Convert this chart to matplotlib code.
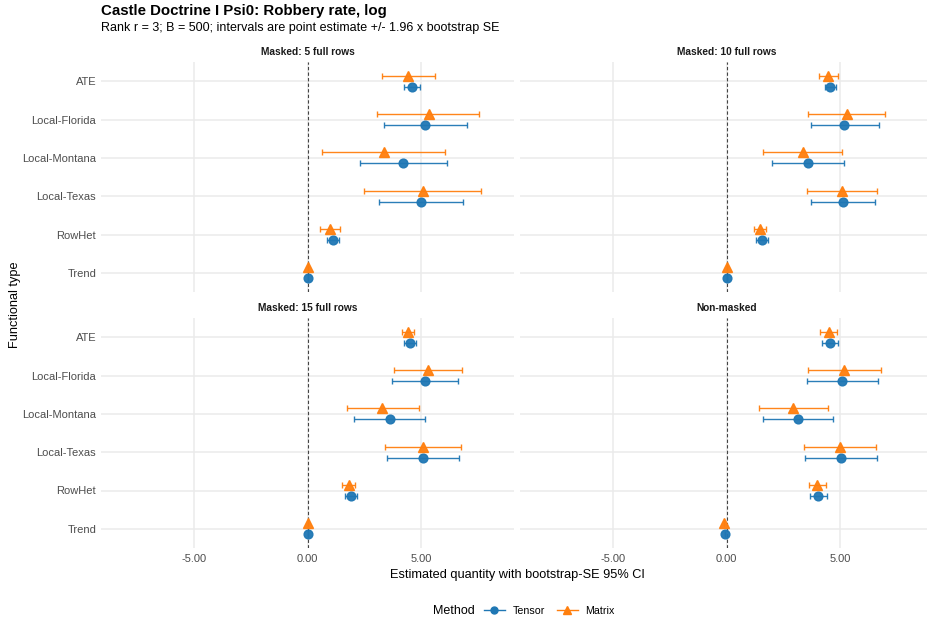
import numpy as np
import matplotlib
matplotlib.use("Agg")
import matplotlib.pyplot as plt
from matplotlib.lines import Line2D

plt.rcParams['font.family'] = ['Liberation Sans', 'DejaVu Sans']

# functional types, top to bottom
types = ["ATE", "Local-Florida", "Local-Montana", "Local-Texas", "RowHet", "Trend"]
panels = ["Masked: 5 full rows", "Masked: 10 full rows",
          "Masked: 15 full rows", "Non-masked"]

# point estimates and CI bounds per panel (same order as types)
tensor_est = [
    [4.60, 5.19, 4.22, 5.01, 1.13, 0.00],
    [4.57, 5.19, 3.59, 5.13, 1.56, 0.00],
    [4.53, 5.16, 3.62, 5.09, 1.91, 0.00],
    [4.56, 5.10, 3.16, 5.04, 4.04, -0.06],
]
tensor_lo = [
    [4.24, 3.37, 2.30, 3.17, 0.85, 0.00],
    [4.34, 3.71, 1.99, 3.72, 1.32, 0.00],
    [4.27, 3.71, 2.07, 3.50, 1.64, 0.00],
    [4.21, 3.54, 1.63, 3.46, 3.68, -0.06],
]
tensor_hi = [
    [4.97, 7.02, 6.13, 6.85, 1.41, 0.00],
    [4.84, 6.71, 5.18, 6.54, 1.81, 0.00],
    [4.79, 6.63, 5.19, 6.69, 2.18, 0.00],
    [4.93, 6.68, 4.71, 6.63, 4.41, -0.06],
]
matrix_est = [
    [4.44, 5.34, 3.37, 5.07, 1.00, 0.00],
    [4.47, 5.29, 3.35, 5.07, 1.47, 0.00],
    [4.44, 5.29, 3.30, 5.07, 1.82, 0.00],
    [4.50, 5.19, 2.94, 4.99, 3.99, -0.09],
]
matrix_lo = [
    [3.27, 3.08, 0.66, 2.51, 0.56, 0.00],
    [4.07, 3.59, 1.63, 3.53, 1.21, 0.00],
    [4.15, 3.80, 1.73, 3.40, 1.54, 0.00],
    [4.13, 3.59, 1.44, 3.41, 3.62, -0.09],
]
matrix_hi = [
    [5.62, 7.57, 6.07, 7.65, 1.45, 0.00],
    [4.91, 7.00, 5.10, 6.63, 1.76, 0.00],
    [4.71, 6.82, 4.90, 6.77, 2.11, 0.00],
    [4.87, 6.79, 4.49, 6.59, 4.38, -0.09],
]

TENSOR_COL = "#1f77b4"
MATRIX_COL = "#ff7f0e"
W, H = 927, 623

fig = plt.figure(figsize=(W / 100, H / 100), dpi=100)

# panel boxes in pixels: (left, top, width, height)
boxes = [(101, 62, 413, 230), (520, 62, 413, 230),
         (101, 318, 413, 230), (520, 318, 413, 230)]

ypos = np.arange(len(types))[::-1] + 1.0
dodge = 0.14

for i, (l, t, w, h) in enumerate(boxes):
    ax = fig.add_axes([l / W, 1 - (t + h) / H, w / W, h / H])
    for s in ax.spines.values():
        s.set_visible(False)
    ax.set_xlim(-9.1, 9.1)
    ax.set_ylim(0.5, 6.5)
    ax.set_xticks([-5, 0, 5])
    ax.set_yticks(ypos)
    ax.grid(True, color="#ebebeb", linewidth=1.1)
    ax.set_axisbelow(True)
    ax.tick_params(length=0, labelsize=8, labelcolor="#4d4d4d")
    ax.tick_params(axis="x", pad=4)
    ax.tick_params(axis="y", pad=3.5)
    if i % 2 == 0:
        ax.set_yticklabels(types)
    else:
        ax.set_yticklabels([])
    if i < 2:
        ax.set_xticklabels([])
    else:
        ax.set_xticklabels(["-5.00", "0.00", "5.00"])

    ax.axvline(0, color="#444444", linestyle=(0, (3, 2)), linewidth=0.8, zorder=1)

    te = np.array(tensor_est[i])
    me = np.array(matrix_est[i])
    ax.errorbar(te, ypos - dodge,
                xerr=[te - np.array(tensor_lo[i]), np.array(tensor_hi[i]) - te],
                fmt="o", color=TENSOR_COL, ecolor=TENSOR_COL, elinewidth=1.0,
                capsize=2, capthick=1.0, markersize=6.3, alpha=0.95, zorder=3)
    ax.errorbar(me, ypos + dodge,
                xerr=[me - np.array(matrix_lo[i]), np.array(matrix_hi[i]) - me],
                fmt="^", color=MATRIX_COL, ecolor=MATRIX_COL, elinewidth=1.0,
                capsize=2, capthick=1.0, markersize=7.2, alpha=0.95, zorder=3)

    ax.set_title(panels[i], fontsize=7.3, fontweight="bold", color="#1a1a1a", pad=5)

fig.text(101 / W, 1 - 15 / H, "Castle Doctrine I Psi0: Robbery rate, log",
         fontsize=10.8, fontweight="bold", va="baseline", ha="left")
fig.text(101 / W, 1 - 28 / H,
         "Rank r = 3; B = 500; intervals are point estimate +/- 1.96 x bootstrap SE",
         fontsize=9, va="center", ha="left")
fig.text(517 / W, 1 - 575 / H, "Estimated quantity with bootstrap-SE 95% CI",
         fontsize=9.2, ha="center", va="center")
fig.text(15 / W, 1 - 305 / H, "Functional type", fontsize=9.2, rotation=90,
         ha="center", va="center")

# legend along the bottom
fig.text(433 / W, 1 - 611 / H, "Method", fontsize=9, ha="left", va="center")
handles = [Line2D([], [], color=TENSOR_COL, marker="o", markersize=5, linewidth=1),
           Line2D([], [], color=MATRIX_COL, marker="^", markersize=6, linewidth=1)]
fig.legend(handles, ["Tensor", "Matrix"], loc="center left",
           bbox_to_anchor=(474 / W, 1 - 611 / H), ncol=2, frameon=False,
           fontsize=7.7, handlelength=2.0, columnspacing=1.1, handletextpad=0.7)

fig.savefig("out.png", dpi=100, facecolor="white")
